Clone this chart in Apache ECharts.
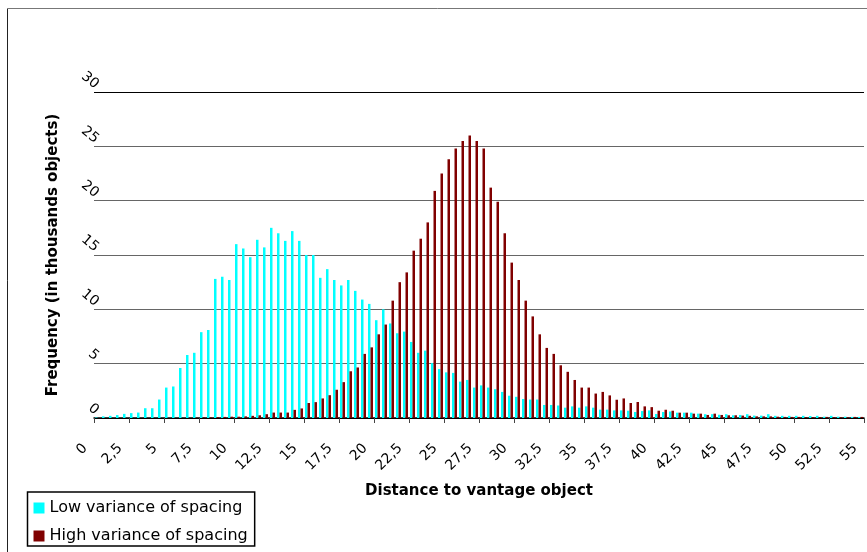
<!DOCTYPE html>
<html><head><meta charset="utf-8">
<script src="https://cdn.jsdelivr.net/npm/echarts@6/dist/echarts.min.js"></script>
<style>html,body{margin:0;padding:0;background:#fff}#c{width:867px;height:552px}</style>
</head><body><div id="c"></div>
<script>
const bins = ["0","0.5","1","1.5","2","2.5","3","3.5","4","4.5","5","5.5","6","6.5","7","7.5","8","8.5","9","9.5",
"10","10.5","11","11.5","12","12.5","13","13.5","14","14.5","15","15.5","16","16.5","17","17.5","18","18.5","19","19.5",
"20","20.5","21","21.5","22","22.5","23","23.5","24","24.5","25","25.5","26","26.5","27","27.5","28","28.5","29","29.5",
"30","30.5","31","31.5","32","32.5","33","33.5","34","34.5","35","35.5","36","36.5","37","37.5","38","38.5","39","39.5",
"40","40.5","41","41.5","42","42.5","43","43.5","44","44.5","45","45.5","46","46.5","47","47.5","48","48.5","49","49.5",
"50","50.5","51","51.5","52","52.5","53","53.5","54","54.5"];

const lowVariance = [0.05,0.15,0.2,0.27,0.38,0.45,0.5,0.9,0.9,1.7,
2.8,2.9,4.6,5.8,6.0,7.9,8.1,12.8,13.0,12.7,
16.0,15.6,14.8,16.4,15.7,17.5,17.0,16.3,17.2,16.3,
15.0,15.0,12.9,13.7,12.7,12.2,12.7,11.7,10.9,10.5,
9.0,10.0,8.7,7.8,7.95,7.0,6.0,6.2,5.05,4.5,
4.2,4.15,3.35,3.5,2.8,3.0,2.8,2.65,2.4,2.05,
1.95,1.75,1.7,1.7,1.2,1.2,1.15,0.95,1.07,0.95,
1.07,0.95,0.77,0.77,0.7,0.7,0.67,0.55,0.64,0.7,
0.37,0.55,0.6,0.49,0.49,0.49,0.4,0.35,0.35,0.3,
0.35,0.25,0.28,0.35,0.22,0.22,0.35,0.2,0.2,0.2,
0.2,0.2,0.18,0.2,0.12,0.2,0.12,0.12,0.1,0.1];

const highVariance = [0,0,0,0,0,0,0,0,0,0,
0,0,0,0,0.03,0.05,0.05,0.08,0.1,0.12,
0.12,0.15,0.2,0.25,0.35,0.5,0.5,0.5,0.75,0.88,
1.38,1.46,1.8,2.1,2.6,3.3,4.3,4.65,5.9,6.5,
7.7,8.6,10.8,12.5,13.4,15.4,16.5,18.0,20.9,22.5,
23.8,24.8,25.5,26.0,25.5,24.8,21.2,19.9,17.0,14.3,
12.7,10.8,9.35,7.7,6.45,5.9,4.85,4.25,3.5,2.8,
2.8,2.25,2.4,2.08,1.68,1.8,1.38,1.47,1.07,1.0,
0.67,0.76,0.67,0.49,0.49,0.4,0.4,0.28,0.4,0.28,
0.25,0.25,0.22,0.2,0.15,0.15,0.15,0.12,0.1,0.1,
0.1,0.08,0.08,0.08,0.1,0.08,0.06,0.06,0.1,0.1];

const xTickLabels = ["0","2,5","5","7,5","10","12,5","15","17,5","20","22,5","25","27,5","30","32,5","35","37,5","40","42,5","45","47,5","50","52,5","55"];
const seriesNames = ["Low variance of spacing","High variance of spacing"];
const seriesColors = ["#00FFFF","#800000"];

const chart = echarts.init(document.getElementById('c'));
chart.setOption({
  animation:false,
  backgroundColor:'#fff',
  textStyle:{fontFamily:'DejaVu Sans'},
  grid:{left:94, right:3, top:92, bottom:134},
  legend:{
    orient:'vertical', left:27.5, top:492, padding:[8,7,2,6],
    itemWidth:11, itemHeight:11, itemGap:12, icon:'rect',
    borderColor:'#000', borderWidth:1.5,
    textStyle:{fontSize:16, lineHeight:16, color:'#000', fontFamily:'DejaVu Sans'},
    data:seriesNames
  },
  xAxis:[
    {type:'category', data:bins, boundaryGap:true, show:false},
    {type:'value', min:0, max:55, interval:2.5, position:'bottom',
     axisLine:{show:true, onZero:false, lineStyle:{color:'#000', width:1.5}},
     axisTick:{show:true, length:5, lineStyle:{color:'#444'}},
     splitLine:{show:false},
     axisLabel:{rotate:45, margin:37, verticalAlign:'bottom', lineHeight:25, fontSize:14, color:'#000',
       showMinLabel:true, showMaxLabel:true,
       formatter:function(v){return xTickLabels[Math.round(v/2.5)];}},
     name:'Distance to vantage object', nameLocation:'middle', nameGap:58,
     nameTextStyle:{fontWeight:'bold', fontSize:15, color:'#000', fontFamily:'DejaVu Sans'}}
  ],
  yAxis:{type:'value', min:0, max:30, interval:5,
    axisLine:{show:false}, axisTick:{show:false},
    splitLine:{lineStyle:{color:['#000','#666','#666','#666','#666','#666','#000'], width:1}},
    axisLabel:{rotate:-40, margin:2, verticalAlign:'bottom', lineHeight:15, fontSize:14, color:'#000'},
    name:'Frequency (in thousands objects)', nameLocation:'middle', nameGap:33,
    nameTextStyle:{fontWeight:'bold', fontSize:15, color:'#000', fontFamily:'DejaVu Sans'}},
  series:[
    {name:seriesNames[0], type:'bar', xAxisIndex:0, data:lowVariance, barWidth:2.5, barGap:'0%', itemStyle:{color:seriesColors[0]}},
    {name:seriesNames[1], type:'bar', xAxisIndex:0, data:highVariance, barWidth:2.5, barGap:'0%', itemStyle:{color:seriesColors[1]}}
  ],
  graphic:[
    {type:'line', silent:true, shape:{x1:7.5,y1:8.5,x2:7.5,y2:552}, style:{stroke:'#222', lineWidth:1}},
    {type:'line', silent:true, shape:{x1:7.5,y1:8.5,x2:867,y2:8.5}, style:{stroke:'#777', lineWidth:1}}
  ]
});
</script></body></html>
